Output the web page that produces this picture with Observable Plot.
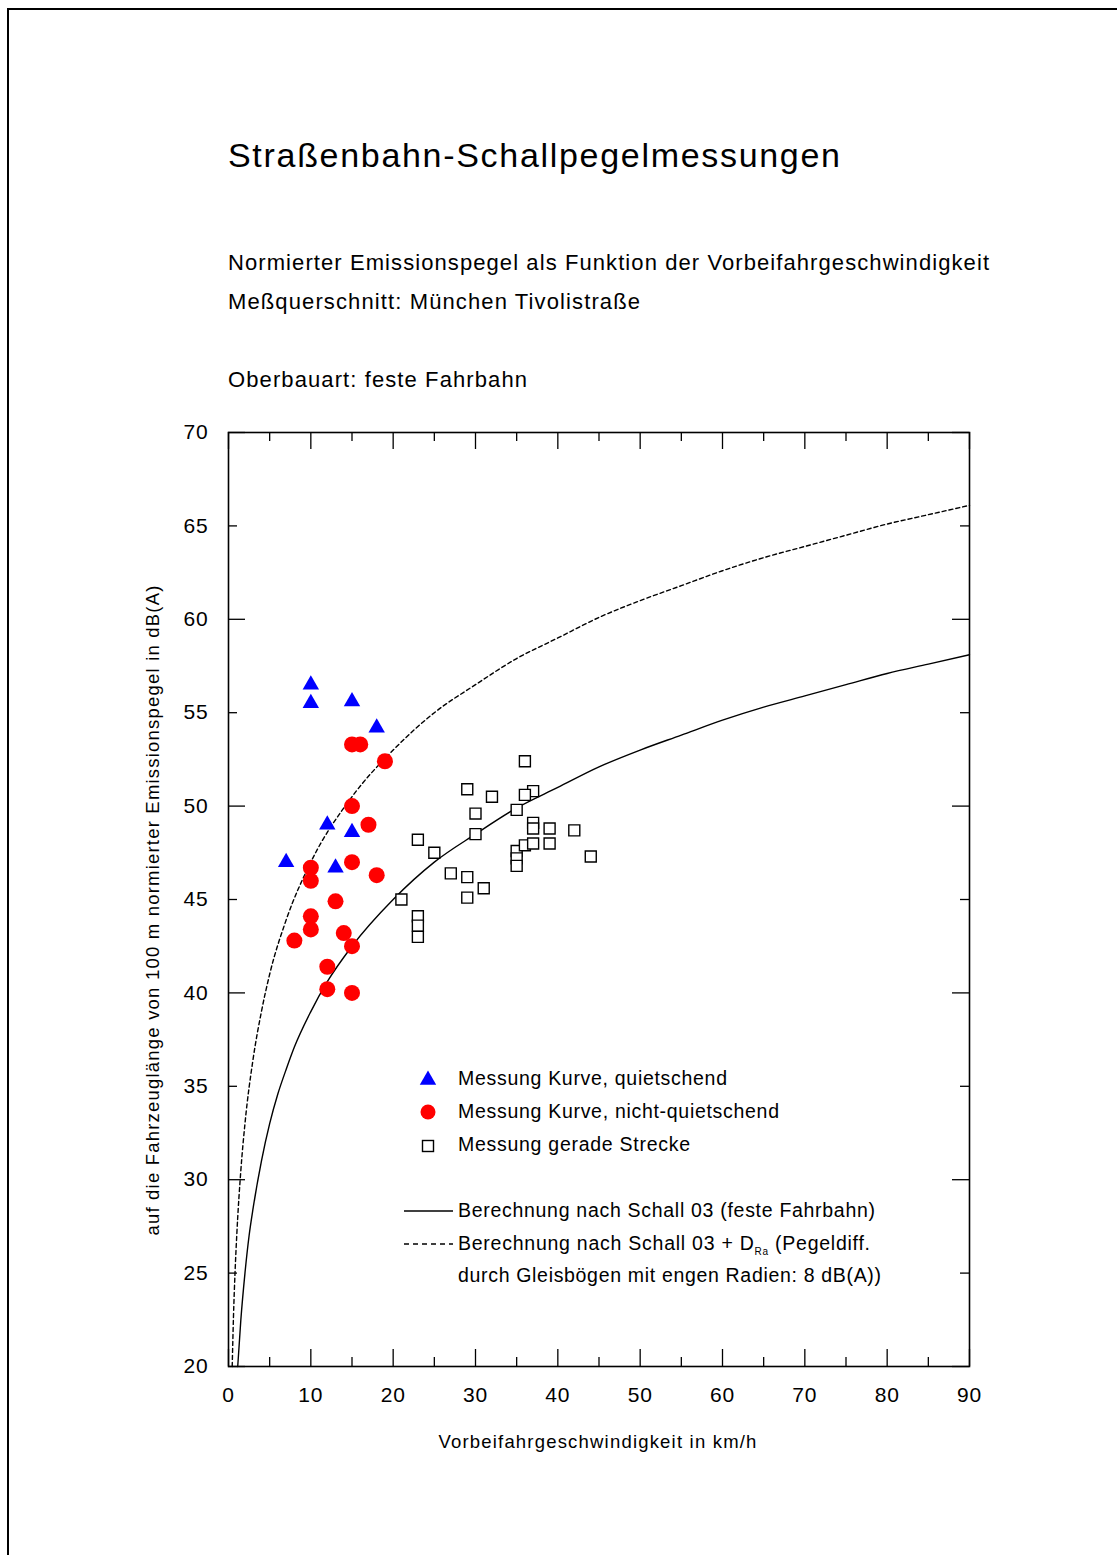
<!DOCTYPE html>
<html><head><meta charset="utf-8">
<script src="https://cdn.jsdelivr.net/npm/d3@7"></script>
<script src="https://cdn.jsdelivr.net/npm/@observablehq/plot@0.6"></script>
<style>
html,body{margin:0;padding:0;background:#fff;overflow:hidden;}
body{width:1117px;height:1555px;position:relative;font-family:"Liberation Sans",Arial,sans-serif;color:#000;}
.frame{position:absolute;left:7px;top:8px;width:1300px;height:1700px;border:2px solid #000;box-sizing:border-box;z-index:10;pointer-events:none;}
.t{position:absolute;white-space:nowrap;line-height:1;}
#chart{position:absolute;left:0;top:410px;}
#legsym{position:absolute;left:0;top:0;overflow:visible;}
sub{font-size:10px;vertical-align:-5px;line-height:0;}
</style></head><body>
<div class="frame"></div>
<div id="chart"></div>
<svg id="legsym" width="1117" height="1555"></svg>
<script>
// ---- data ----
const titleText = "Straßenbahn-Schallpegelmessungen";
const subtitleLines = [
  "Normierter Emissionspegel als Funktion der Vorbeifahrgeschwindigkeit",
  "Meßquerschnitt: München Tivolistraße",
  "Oberbauart: feste Fahrbahn"
];
const xLabel = "Vorbeifahrgeschwindigkeit in km/h";
const yLabel = "auf die Fahrzeuglänge von 100 m normierter Emissionspegel in dB(A)";

const xMajorTicks = [0, 10, 20, 30, 40, 50, 60, 70, 80, 90];
const xMinorTicks = [5, 15, 25, 35, 45, 55, 65, 75, 85];
const yMajorTicks = [20, 30, 40, 50, 60, 70];
const yMinorTicks = [25, 35, 45, 55, 65];
const yLabelTicks = [20, 25, 30, 35, 40, 45, 50, 55, 60, 65, 70];

// Messung Kurve, quietschend (triangles)
const triSpeed = [10, 10, 15, 18, 12, 15, 7, 13];
const triLevel = [56.5, 55.5, 55.6, 54.2, 49.0, 48.6, 47.0, 46.7];
// Messung Kurve, nicht-quietschend (circles)
const circSpeed = [15, 16, 19, 15, 17, 15, 10, 10, 18, 13, 10, 10, 8, 14, 15, 12, 12, 15];
const circLevel = [53.3, 53.3, 52.4, 50.0, 49.0, 47.0, 46.7, 46.0, 46.3, 44.9, 44.1, 43.4, 42.8, 43.2, 42.5, 41.4, 40.2, 40.0];
// Messung gerade Strecke (squares)
const sqSpeed = [36, 29, 37, 32, 36, 30, 35, 37, 37, 39, 42, 30, 23, 25, 35, 36, 37, 39, 35, 35, 44, 27, 29, 31, 29, 21, 23, 23, 23];
const sqLevel = [52.4, 50.9, 50.8, 50.5, 50.6, 49.6, 49.8, 49.1, 48.8, 48.8, 48.7, 48.5, 48.2, 47.5, 47.6, 47.9, 48.0, 48.0, 47.2, 46.8, 47.3, 46.4, 46.2, 45.6, 45.1, 45.0, 44.1, 43.6, 43.0];

// Berechnung nach Schall 03 (solid curve)
const solidSpeed = [1.12, 1.5, 2, 2.5, 3, 4, 5, 6, 7, 8, 10, 12, 15, 20, 25, 30, 35, 40, 45, 50, 55, 60, 65, 70, 75, 80, 85, 90];
const solidLevel = [20.0, 22.5, 25.0, 27.0, 28.5, 31.0, 33.0, 34.6, 35.9, 37.1, 39.0, 40.6, 42.5, 45.0, 47.0, 48.5, 49.9, 51.0, 52.1, 53.0, 53.8, 54.6, 55.3, 55.9, 56.5, 57.1, 57.6, 58.1];
// Berechnung nach Schall 03 + D_Ra (dashed curve)
const dashSpeed = [0.45, 0.6, 0.8, 1, 1.5, 2, 3, 4, 5, 7, 10, 15, 20, 25, 30, 35, 40, 45, 50, 55, 60, 65, 70, 75, 80, 85, 90];
const dashLevel = [20.0, 22.6, 25.1, 27.0, 30.5, 33.0, 36.5, 39.0, 41.0, 43.9, 47.0, 50.5, 53.0, 55.0, 56.5, 57.9, 59.0, 60.1, 61.0, 61.8, 62.6, 63.3, 63.9, 64.5, 65.1, 65.6, 66.1];

const legendMarkerLabels = ["Messung Kurve, quietschend", "Messung Kurve, nicht-quietschend", "Messung gerade Strecke"];
const legendLineLabels = ["Berechnung nach Schall 03 (feste Fahrbahn)", "Berechnung nach Schall 03 + D", "Ra", " (Pegeldiff.", "durch Gleisbögen mit engen Radien: 8 dB(A))"];

// ---- build tables ----
const zip = (xs, ys) => xs.map((x, i) => ({v: x, L: ys[i]}));
const tri = zip(triSpeed, triLevel);
const circ = zip(circSpeed, circLevel);
const sq = zip(sqSpeed, sqLevel);
const solid = zip(solidSpeed, solidLevel);
const dash = zip(dashSpeed, dashLevel);

const W = 1117, H = 1060, ML = 228, MR = 148, MT = 22, MB = 104;
const PW = W - ML - MR, PH = H - MT - MB;
const TL = 17, TS = 9;

const plot = Plot.plot({
  width: W, height: H,
  marginLeft: ML, marginRight: MR, marginTop: MT, marginBottom: MB,
  style: {fontFamily: "'Liberation Sans', Arial, sans-serif", fontSize: "21px", color: "#000", background: "transparent", overflow: "visible"},
  x: {domain: [0, 90]},
  y: {domain: [20, 70]},
  marks: [
    Plot.line(solid, {x: "v", y: "L", curve: "monotone-x", stroke: "#000", strokeWidth: 1.4}),
    Plot.line(dash, {x: "v", y: "L", curve: "monotone-x", stroke: "#000", strokeWidth: 1.4, strokeDasharray: "4,3"}),
    Plot.dot(sq, {x: "v", y: "L", symbol: "square", r: 6.2, fill: "#fff", stroke: "#000", strokeWidth: 1.4}),
    Plot.dot(circ, {x: "v", y: "L", symbol: "circle", r: 8, fill: "#ff0000", stroke: "none"}),
    Plot.dot(tri, {x: "v", y: "L", symbol: "triangle", r: 6.1, fill: "#0000ff", stroke: "none"}),
    Plot.tickX(xMajorTicks, {x: d => d, insetTop: PH - TL, stroke: "#000", strokeWidth: 1.3}),
    Plot.tickX(xMinorTicks, {x: d => d, insetTop: PH - TS, stroke: "#000", strokeWidth: 1.3}),
    Plot.tickX(xMajorTicks, {x: d => d, insetBottom: PH - TL, stroke: "#000", strokeWidth: 1.3}),
    Plot.tickX(xMinorTicks, {x: d => d, insetBottom: PH - TS, stroke: "#000", strokeWidth: 1.3}),
    Plot.tickY(yMajorTicks, {y: d => d, insetRight: PW - TL, stroke: "#000", strokeWidth: 1.3}),
    Plot.tickY(yMinorTicks, {y: d => d, insetRight: PW - TS, stroke: "#000", strokeWidth: 1.3}),
    Plot.tickY(yMajorTicks, {y: d => d, insetLeft: PW - TL, stroke: "#000", strokeWidth: 1.3}),
    Plot.tickY(yMinorTicks, {y: d => d, insetLeft: PW - TS, stroke: "#000", strokeWidth: 1.3}),
    Plot.frame({stroke: "#000", strokeWidth: 1.6}),
    Plot.axisX(xMajorTicks, {anchor: "bottom", tickSize: 0, tickPadding: 21, label: null, fontSize: 21}),
    Plot.axisY(yLabelTicks, {anchor: "left", tickSize: 0, tickPadding: 20, label: null, fontSize: 21})
  ]
});
document.getElementById("chart").appendChild(plot);
plot.querySelectorAll("g[aria-label$='tick label'] text").forEach(t => t.style.letterSpacing = "0.8px");

// ---- HTML texts ----
function addText(str, left, centerY, fs, target, extra) {
  const d = document.createElement("div");
  d.className = "t";
  d.style.fontSize = fs + "px";
  d.style.left = left + "px";
  d.style.top = (centerY - 0.4885 * fs) + "px";
  if (extra) d.innerHTML = str; else d.textContent = str;
  document.body.appendChild(d);
  const nat = d.getBoundingClientRect().width;
  const n = d.textContent.length;
  if (target) d.style.letterSpacing = ((target - nat) / (n - 1)) + "px";
  return d;
}
addText(titleText, 228, 155, 34, 612);
addText(subtitleLines[0], 228, 263, 22, 761);
addText(subtitleLines[1], 228, 302, 22, 412);
addText(subtitleLines[2], 228, 380, 22, 299);

// legend texts
addText(legendMarkerLabels[0], 458, 1079, 19.5, 269);
addText(legendMarkerLabels[1], 458, 1112, 19.5, 321);
addText(legendMarkerLabels[2], 458, 1145, 19.5, 232);
addText(legendLineLabels[0], 458, 1211, 19.5, 417);
addText(legendLineLabels[1] + "<sub>" + legendLineLabels[2] + "</sub>" + legendLineLabels[3], 458, 1244, 19.5, 412, true);
addText(legendLineLabels[4], 458, 1276, 19.5, 423);

// axis titles
const xl = addText(xLabel, 0, 1442, 18.5, 318);
xl.style.left = (598 - xl.getBoundingClientRect().width / 2) + "px";
const yl = addText(yLabel, 0, 0, 18.5, 650);
yl.style.left = "153px"; yl.style.top = "910px";
yl.style.transform = "translate(-50%,-50%) rotate(-90deg)";

// legend symbols (plain SVG)
const ls = d3.select("#legsym");
ls.append("path").attr("transform", "translate(428,1080)").attr("d", d3.symbol(d3.symbolTriangle, Math.PI * 6.1 * 6.1)()).attr("fill", "#0000ff");
ls.append("circle").attr("cx", 428).attr("cy", 1112).attr("r", 7.5).attr("fill", "#ff0000");
ls.append("rect").attr("x", 422.5).attr("y", 1140.5).attr("width", 11).attr("height", 11).attr("fill", "#fff").attr("stroke", "#000").attr("stroke-width", 1.4);
ls.append("line").attr("x1", 404).attr("x2", 453).attr("y1", 1211).attr("y2", 1211).attr("stroke", "#000").attr("stroke-width", 1.4);
ls.append("line").attr("x1", 404).attr("x2", 453).attr("y1", 1244).attr("y2", 1244).attr("stroke", "#000").attr("stroke-width", 1.4).attr("stroke-dasharray", "5,4");
</script>
</body></html>
